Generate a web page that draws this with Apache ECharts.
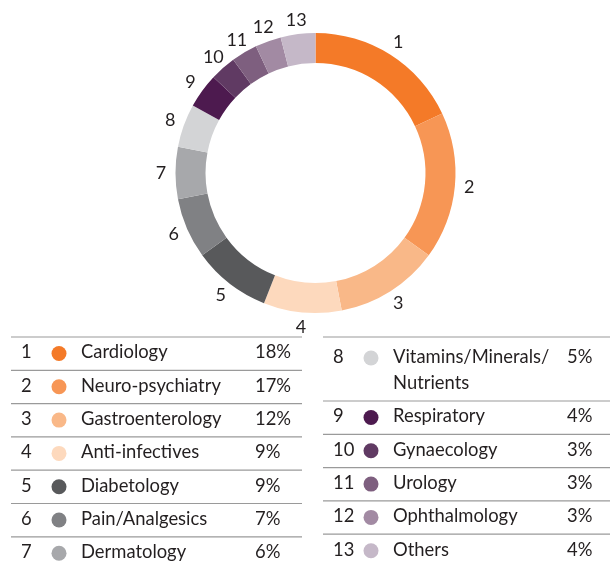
<!DOCTYPE html>
<html>
<head>
<meta charset="utf-8">
<script src="https://cdn.jsdelivr.net/npm/echarts@6/dist/echarts.min.js"></script>
<style>
  html, body { margin: 0; padding: 0; background: #fff; }
  #chart { width: 610px; height: 567px; }
</style>
</head>
<body>
<div id="chart"></div>
<script>
var numbers = ['1', '2', '3', '4', '5', '6', '7', '8', '9', '10', '11', '12', '13'];
var categories = ['Cardiology', 'Neuro-psychiatry', 'Gastroenterology', 'Anti-infectives',
  'Diabetology', 'Pain/Analgesics', 'Dermatology', 'Vitamins/Minerals/\nNutrients',
  'Respiratory', 'Gynaecology', 'Urology', 'Ophthalmology', 'Others'];
var shares = [18, 17, 12, 9, 9, 7, 6, 5, 4, 3, 3, 3, 4];
var colors = ['#f47a28', '#f79655', '#f9b888', '#fdd9bd', '#58595b', '#808184', '#a7a8ab',
  '#d3d4d6', '#4d1a4f', '#603a63', '#7e5f7f', '#a28aa3', '#c5b8c8'];

var font = 'Lato, "Noto Sans", sans-serif';
var textColor = '#231f20';
var ruleColor = '#9a9a9a';
var tableFont = '18.4px ' + font;

var chart = echarts.init(document.getElementById('chart'));

var pieData = categories.map(function (c, i) {
  return { name: numbers[i], value: shares[i], itemStyle: { color: colors[i] } };
});

// legend table built from the arrays
var graphics = [];
function addText(x, y, text) {
  graphics.push({
    type: 'text', silent: true, x: x, y: y,
    style: { text: text, font: tableFont, fill: textColor, verticalAlign: 'middle' }
  });
}
function addRow(i, x0, x1, rowTop) {
  graphics.push({
    type: 'line', silent: true,
    shape: { x1: x0, y1: rowTop, x2: x1, y2: rowTop },
    style: { stroke: ruleColor, lineWidth: 1.2 }
  });
  var lines = categories[i].split('\n');
  var cy = rowTop + (lines.length > 1 ? 20 : 15.5);
  var col = x0 < 300 ? { num: 21, dot: 59, name: 81, pct: 255 } : { num: 333, dot: 371, name: 393, pct: 567 };
  addText(col.num, cy, numbers[i]);
  graphics.push({
    type: 'circle', silent: true, shape: { cx: col.dot, cy: cy + 1, r: 7.5 },
    style: { fill: colors[i] }
  });
  lines.forEach(function (line, k) {
    addText(col.name, cy + k * 26, line);
  });
  addText(col.pct, cy, shares[i] + '%');
}
var rowH = 33.3;
for (var i = 0; i < 7; i++) {
  addRow(i, 11, 302, 337 + i * rowH);
}
var rightY = 337;
for (var j = 7; j < 13; j++) {
  addRow(j, 323, 610, rightY);
  rightY += (j === 7 ? 64 : rowH);
}

var option = {
  animation: false,
  textStyle: { fontFamily: font },
  series: [
    {
      type: 'pie',
      center: [315.5, 173],
      radius: [110, 140],
      startAngle: 90,
      silent: true,
      label: { show: false },
      labelLine: { show: false },
      data: pieData
    },
    {
      // invisible ring used only to place the number labels around the donut
      type: 'pie',
      center: [315.5, 173],
      radius: [141, 162],
      startAngle: 90,
      silent: true,
      itemStyle: { color: 'transparent' },
      label: {
        show: true,
        position: 'inside',
        formatter: '{b}',
        fontFamily: font,
        fontSize: 18,
        color: textColor
      },
      labelLine: { show: false },
      data: numbers.map(function (n, i) {
        return { name: n, value: shares[i], itemStyle: { color: 'transparent' } };
      })
    }
  ],
  graphic: graphics
};

chart.setOption(option);
</script>
</body>
</html>
